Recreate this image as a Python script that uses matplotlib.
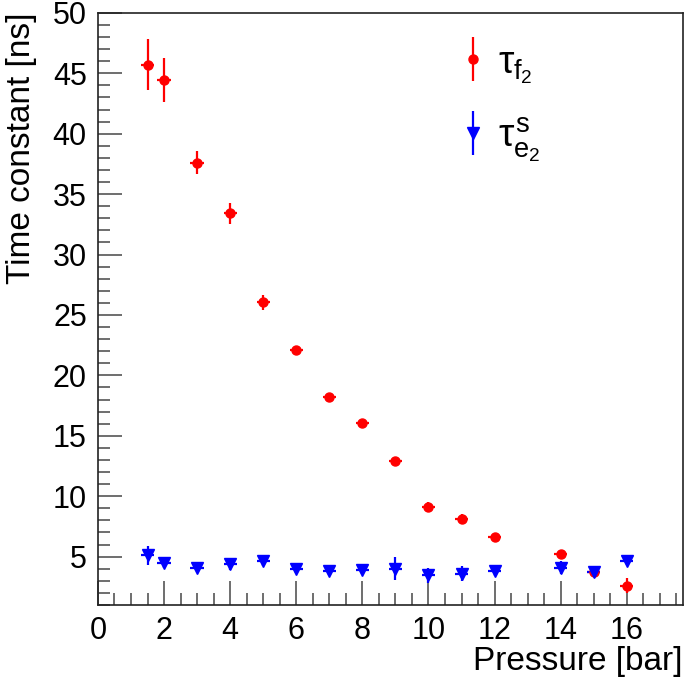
import matplotlib
matplotlib.use("Agg")
import matplotlib.pyplot as plt
from matplotlib.ticker import MultipleLocator
from matplotlib.legend_handler import HandlerErrorbar

plt.rcParams['font.family'] = ['Liberation Sans', 'DejaVu Sans']
plt.rcParams['mathtext.fontset'] = 'custom'
plt.rcParams['mathtext.rm'] = 'Liberation Sans'
plt.rcParams['mathtext.it'] = 'Liberation Sans'
plt.rcParams['mathtext.cal'] = 'Liberation Sans'

pressure_f = [1.5, 2, 3, 4, 5, 6, 7, 8, 9, 10, 11, 12, 14, 15, 16]
tau_f = [45.7, 44.45, 37.6, 33.4, 26.05, 22.1, 18.2, 16.1, 12.9, 9.1, 8.1, 6.6, 5.2, 3.7, 2.6]
tau_f_err = [2.1, 1.85, 0.95, 0.85, 0.6, 0.3, 0.25, 0.2, 0.2, 0.4, 0.4, 0.35, 0.2, 0.1, 0.6]

pressure_e = [1.5, 2, 3, 4, 5, 6, 7, 8, 9, 10, 11, 12, 14, 15, 16]
tau_e = [5.1, 4.5, 4.1, 4.4, 4.6, 3.95, 3.8, 3.9, 4.0, 3.45, 3.6, 3.85, 4.1, 3.75, 4.6]
tau_e_err = [0.8, 0.4, 0.3, 0.5, 0.35, 0.3, 0.3, 0.35, 0.95, 0.6, 0.6, 0.45, 0.5, 0.35, 0.25]

x_err = 0.2

fig = plt.figure(figsize=(6.85, 6.79), dpi=100)
ax = fig.add_axes([0.143, 0.109, 0.854, 0.872])

ax.errorbar(pressure_f, tau_f, yerr=tau_f_err, xerr=[x_err]*len(pressure_f),
            fmt='o', color='#ff0000', ms=6.5, elinewidth=1.6, capsize=0, zorder=3)
ax.errorbar(pressure_e, tau_e, yerr=tau_e_err, xerr=[x_err]*len(pressure_e),
            fmt='v', color='#0000ff', ms=8, elinewidth=1.6, capsize=0, zorder=3)

ax.set_xlim(0, 17.7)
ax.set_ylim(1, 50)
ax.xaxis.set_major_locator(MultipleLocator(2))
ax.xaxis.set_minor_locator(MultipleLocator(0.5))
ax.yaxis.set_minor_locator(MultipleLocator(1))
ax.set_yticks([5, 10, 15, 20, 25, 30, 35, 40, 45, 50])

ax.tick_params(which='both', direction='in', top=False, right=False, color='#555555', width=1.2)
ax.tick_params(which='major', length=17, labelsize=22, pad=8)
ax.tick_params(which='minor', length=8.5)
for s in ax.spines.values():
    s.set_linewidth(1.2)
    s.set_color('#222222')

ax.set_xlabel('Pressure [bar]', fontsize=24, loc='right', labelpad=0)
ax.set_ylabel('Time constant [ns]', fontsize=24, loc='top', labelpad=11)

h1 = ax.errorbar([], [], yerr=[], fmt='o', color='#ff0000', ms=6.5, elinewidth=1.6, capsize=0)
h2 = ax.errorbar([], [], yerr=[], fmt='v', color='#0000ff', ms=8, elinewidth=1.6, capsize=0)
leg = ax.legend([h1, h2], [r'$\tau_{f_2}$', r'$\tau^{s}_{e_2}$'], loc='upper left',
                bbox_to_anchor=(0.555, 1.005), frameon=False, fontsize=28,
                handlelength=0.8, handletextpad=0.25, labelspacing=0.75,
                handler_map={type(h1): HandlerErrorbar(yerr_size=0.57)})

fig.savefig('out.png', dpi=100)
